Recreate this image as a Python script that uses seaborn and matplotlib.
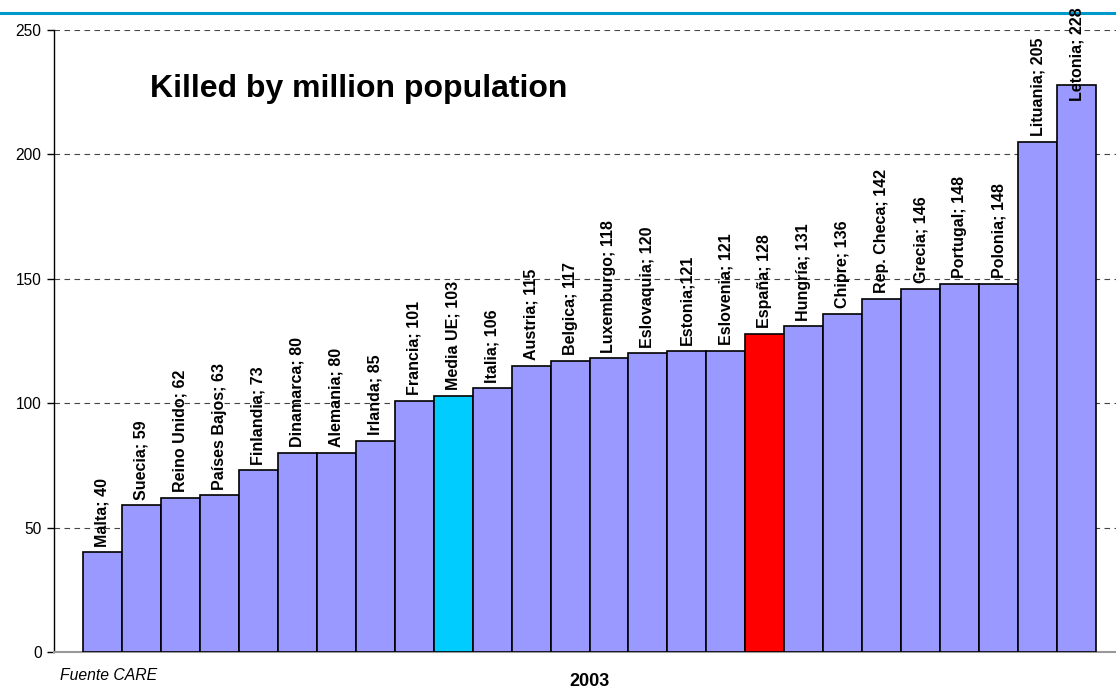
import matplotlib
matplotlib.use("Agg")
import pandas as pd
import seaborn as sns
import matplotlib.pyplot as plt
from matplotlib.lines import Line2D

# data
countries = ["Malta", "Suecia", "Reino Unido", "Países Bajos", "Finlandia",
             "Dinamarca", "Alemania", "Irlanda", "Francia", "Media UE",
             "Italia", "Austria", "Belgica", "Luxemburgo", "Eslovaquia",
             "Estonia", "Eslovenia", "España", "Hungría", "Chipre",
             "Rep. Checa", "Grecia", "Portugal", "Polonia", "Lituania",
             "Letonia"]
killed = [40, 59, 62, 63, 73, 80, 80, 85, 101, 103, 106, 115, 117, 118, 120,
          121, 121, 128, 131, 136, 142, 146, 148, 148, 205, 228]
label_sep = ["; "] * 15 + [";"] + ["; "] * 10
yticks = [0, 50, 100, 150, 200, 250]

base_color = "#9999FF"
special = {"Media UE": "#00CCFF", "España": "#FF0000"}

sns.set_style("white")
plt.rcParams["font.family"] = ["Liberation Sans", "DejaVu Sans"]
plt.rcParams["text.color"] = "black"
plt.rcParams["ytick.color"] = "black"
plt.rcParams["xtick.color"] = "black"

df = pd.DataFrame({"country": countries, "killed": killed})
palette = [special.get(c, base_color) for c in countries]

fig = plt.figure(figsize=(11.16, 6.91), dpi=100)
ax = fig.add_axes([54 / 1116, 39 / 691, 1062 / 1116, 622 / 691])

sns.barplot(data=df, x="country", y="killed", hue="country",
            palette=palette, legend=False, width=1.0, saturation=1,
            edgecolor="black", linewidth=1.2, ax=ax, zorder=3)

ax.set_xlim(-1.244, len(countries) + 0.013)
ax.set_ylim(0, 250)
ax.set_yticks(yticks)
ax.set_yticklabels([str(t) for t in yticks], fontsize=11.2)
ax.set_xticks([])
ax.set_xlabel("")
ax.set_ylabel("")
ax.tick_params(axis="y", direction="out", length=5, width=1, color="black",
               left=True, pad=4)
ax.yaxis.grid(True, linestyle=(0, (5, 4)), color="#444444", linewidth=0.8,
              zorder=0)
ax.set_axisbelow(True)

for side in ["top", "right"]:
    ax.spines[side].set_visible(False)
ax.spines["left"].set_color("black")
ax.spines["left"].set_linewidth(1)
ax.spines["bottom"].set_color("#999999")
ax.spines["bottom"].set_linewidth(1.5)

# rotated data labels above the bars
for i, (c, v) in enumerate(zip(countries, killed)):
    text = f"{c}{label_sep[i]}{v}"
    if v > 220:
        ax.text(i, 259, text, rotation=90, ha="center", va="top",
                fontsize=11.5, fontweight="bold", zorder=5, clip_on=False)
    else:
        ax.annotate(text, (i, v), xytext=(0, 4), textcoords="offset points",
                    rotation=90, ha="center", va="bottom", fontsize=11.5,
                    fontweight="bold", zorder=5, annotation_clip=False)

fig.text(359 / 1116, 1 - 89 / 691, "Killed by million population",
         fontsize=23, fontweight="bold", ha="center", va="center")

fig.text(60 / 1116, 1 - 676 / 691, "Fuente CARE", fontsize=11.3,
         style="italic", ha="left", va="center")
fig.text(589 / 1116, 1 - 681 / 691, "2003", fontsize=13,
         fontweight="bold", ha="center", va="center")

# blue rule at the top of the slide, behind the labels
fig.add_artist(Line2D([0, 1], [1 - 12.5 / 691, 1 - 12.5 / 691],
                      transform=fig.transFigure, color="#0099CC",
                      linewidth=2.2, zorder=-1))

fig.savefig("out.png", dpi=100)
